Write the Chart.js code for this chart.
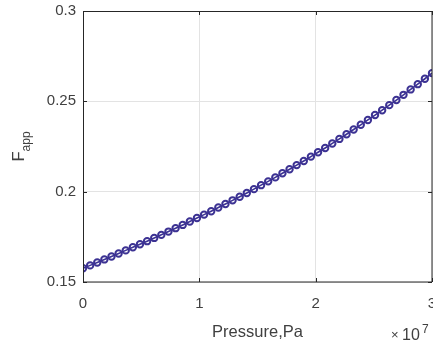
<!DOCTYPE html>
<html>
<head>
<meta charset="utf-8">
<script src="https://cdn.jsdelivr.net/npm/chart.js@4"></script>
<style>
    html, body { margin: 0; padding: 0; background: #fff; }
    #wrap { width: 433px; height: 341px; position: relative; }
</style>
</head>
<body>
<div id="wrap"><canvas id="fappChart"></canvas></div>
<script>
// Pressure (Pa) and apparent F values
const pressure = [
    0, 612245, 1224490, 1836735, 2448980, 3061224, 3673469, 4285714, 4897959, 5510204,
    6122449, 6734694, 7346939, 7959184, 8571429, 9183673, 9795918, 10408163, 11020408, 11632653,
    12244898, 12857143, 13469388, 14081633, 14693878, 15306122, 15918367, 16530612, 17142857, 17755102,
    18367347, 18979592, 19591837, 20204082, 20816327, 21428571, 22040816, 22653061, 23265306, 23877551,
    24489796, 25102041, 25714286, 26326531, 26938776, 27551020, 28163265, 28775510, 29387755, 30000000
];
const fApp = [
    0.1576, 0.1592, 0.1608, 0.1625, 0.1641, 0.1658, 0.1675, 0.1692, 0.1709, 0.1726,
    0.1744, 0.1761, 0.1779, 0.1798, 0.1816, 0.1835, 0.1854, 0.1873, 0.1892, 0.1912,
    0.1932, 0.1952, 0.1972, 0.1993, 0.2014, 0.2036, 0.2057, 0.2079, 0.2102, 0.2124,
    0.2147, 0.2170, 0.2194, 0.2218, 0.2242, 0.2267, 0.2292, 0.2318, 0.2344, 0.2370,
    0.2397, 0.2424, 0.2451, 0.2479, 0.2507, 0.2536, 0.2566, 0.2595, 0.2625, 0.2656
];
const xTicks = [0, 10000000, 20000000, 30000000];
const xTickLabels = ['0', '1', '2', '3'];
const yTicks = [0.15, 0.2, 0.25, 0.3];
const yTickLabels = ['0.15', '0.2', '0.25', '0.3'];

const axisColor = '#262626';
const textColor = '#404040';
const fontFamily = '"Liberation Sans", Arial, Helvetica, sans-serif';

// box, inward ticks, x tick labels and axis labels (MATLAB look)
const matlabAxes = {
    id: 'matlabAxes',
    afterDatasetsDraw(chart) {
        const { ctx, chartArea: a, scales } = chart;
        const tl = 4;
        ctx.save();
        ctx.strokeStyle = axisColor;
        ctx.lineWidth = 1;
        ctx.beginPath();
        ctx.rect(a.left + 0.5, a.top + 0.5, a.right - a.left - 0.5, a.bottom - a.top - 0.5);
        xTicks.forEach(v => {
            const px = Math.round(scales.x.getPixelForValue(v)) + 0.5;
            ctx.moveTo(px, a.bottom); ctx.lineTo(px, a.bottom - tl);
            ctx.moveTo(px, a.top); ctx.lineTo(px, a.top + tl);
        });
        yTicks.forEach(v => {
            const py = Math.round(scales.y.getPixelForValue(v)) + 0.5;
            ctx.moveTo(a.left, py); ctx.lineTo(a.left + tl, py);
            ctx.moveTo(a.right, py); ctx.lineTo(a.right - tl, py);
        });
        ctx.stroke();

        ctx.fillStyle = textColor;
        ctx.textBaseline = 'alphabetic';

        // x tick labels
        ctx.font = '15px ' + fontFamily;
        ctx.textAlign = 'center';
        xTicks.forEach((v, i) => {
            ctx.fillText(xTickLabels[i], scales.x.getPixelForValue(v), 308);
        });

        // x label
        ctx.font = '16.5px ' + fontFamily;
        ctx.fillText('Pressure,Pa', (a.left + a.right) / 2, 337);

        // exponent
        ctx.textAlign = 'left';
        ctx.font = '13px ' + fontFamily;
        ctx.fillText('\u00d7', 391, 339);
        ctx.font = '16px ' + fontFamily;
        ctx.fillText('10', 402, 340);
        ctx.font = '12px ' + fontFamily;
        ctx.fillText('7', 422, 333);

        // y label with subscript
        ctx.translate(24, (a.top + a.bottom) / 2);
        ctx.rotate(-Math.PI / 2);
        ctx.font = '16.5px ' + fontFamily;
        const fw = ctx.measureText('F').width;
        ctx.font = '12px ' + fontFamily;
        const sw = ctx.measureText('app').width;
        const start = -(fw + sw) / 2;
        ctx.font = '16.5px ' + fontFamily;
        ctx.fillText('F', start, 0);
        ctx.font = '12px ' + fontFamily;
        ctx.fillText('app', start + fw, 6);
        ctx.restore();
    }
};

new Chart(document.getElementById('fappChart'), {
    type: 'line',
    data: {
        datasets: [{
            data: pressure.map((p, i) => ({ x: p, y: fApp[i] })),
            borderColor: '#3c3293',
            borderWidth: 1.6,
            pointStyle: 'circle',
            pointRadius: 3.2,
            pointBorderWidth: 2,
            pointBorderColor: '#3c3293',
            pointBackgroundColor: 'rgba(0,0,0,0)',
            tension: 0,
            fill: false
        }]
    },
    options: {
        responsive: true,
        maintainAspectRatio: false,
        animation: false,
        layout: { autoPadding: false, padding: { top: 11, right: 1, left: 0, bottom: 0 } },
        plugins: {
            legend: { display: false },
            tooltip: { enabled: false }
        },
        scales: {
            x: {
                type: 'linear',
                min: 0,
                max: 30000000,
                afterFit: s => { s.height = 59; },
                afterBuildTicks: s => { s.ticks = xTicks.map(v => ({ value: v })); },
                grid: { color: '#e3e3e3', drawTicks: false },
                border: { display: false },
                ticks: { display: false }
            },
            y: {
                min: 0.15,
                max: 0.3,
                afterFit: s => { s.width = 83; s.paddingTop = 0; s.paddingBottom = 0; },
                afterBuildTicks: s => { s.ticks = yTicks.map(v => ({ value: v })); },
                grid: { color: '#e3e3e3', drawTicks: false },
                border: { display: false },
                ticks: {
                    color: textColor,
                    font: { family: fontFamily, size: 15 },
                    padding: 7,
                    callback: (v, i) => yTickLabels[i]
                }
            }
        }
    },
    plugins: [matlabAxes]
});
</script>
</body>
</html>
